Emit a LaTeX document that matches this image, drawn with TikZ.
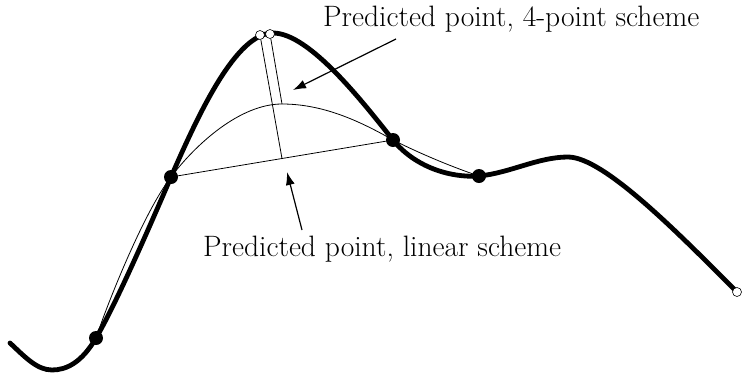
\documentclass[tikz,border=0pt]{standalone}
\usetikzlibrary{arrows.meta}
\begin{document}
\begin{tikzpicture}[x=1pt,y=-1pt,
  thickcurve/.style={line width=4.8pt,line cap=round,line join=round},
  thincurve/.style={line width=0.8pt},
  dot/.style={circle,fill=black,inner sep=0pt,minimum size=14pt},
  ring/.style={circle,draw=black,fill=white,line width=0.6pt,inner sep=0pt,minimum size=9pt},
  pointer/.style={line width=1.2pt,-{Latex[length=13pt,width=9pt]}},
  lbl/.style={font=\fontsize{29.5}{34}\selectfont,inner sep=0pt}]
\useasboundingbox (0,0) rectangle (742,373);
\coordinate (S) at (10,343);
\coordinate (B) at (52,370);
\coordinate (P0) at (96,338);
\coordinate (P1) at (171,177);
\coordinate (T) at (273,33);
\coordinate (P2) at (393,140);
\coordinate (P3) at (479,176);
\coordinate (H) at (568,157);
\coordinate (E) at (737,292);
\coordinate (M) at (282,158.5);
\coordinate (Q) at (282,104);
% thick curve
\draw[thickcurve] (S) .. controls (25,357) and (37,370) .. (B)
  .. controls (67,370) and (82,362) .. (P0)
  .. controls (116,304) and (149,228) .. (P1)
  .. controls (199,113) and (236,33) .. (T)
  .. controls (310,33) and (365,105) .. (P2)
  .. controls (415,167) and (450,178) .. (P3)
  .. controls (510,173) and (538,157) .. (H)
  .. controls (604,157) and (680,235) .. (E);
% thin 4-point interpolant
\draw[thincurve] (P0) .. controls (108,302) and (144,212) .. (P1)
  .. controls (196,144) and (240,104) .. (Q)
  .. controls (322,104) and (358,120) .. (P2)
  .. controls (423,155) and (455,168) .. (P3);
% linear scheme chord
\draw[thincurve] (P1) -- (P2);
\node[ring] (c1) at (260,35) {};
\node[ring] (c2) at (270,34) {};
\node[ring] (cend) at (E) {};
\draw[thincurve] (M) -- (c1);
\draw[thincurve] (Q) -- (c2);
\node[dot] (d0) at (P0) {};
\node[dot] (d1) at (P1) {};
\node[dot] (d2) at (P2) {};
\node[dot] (d3) at (P3) {};
% labels
\node[lbl,anchor=base west] (L1) at (323,26) {Predicted point, 4-point scheme};
\node[lbl,anchor=base west] (L2) at (203,256) {Predicted point, linear scheme};
\coordinate (a1s) at (396,39);
\coordinate (a1e) at (293,90);
\coordinate (a2s) at (302,230);
\coordinate (a2e) at (287,172);
\draw[pointer] (a1s) -- (a1e);
\draw[pointer] (a2s) -- (a2e);
\end{tikzpicture}
\end{document}
